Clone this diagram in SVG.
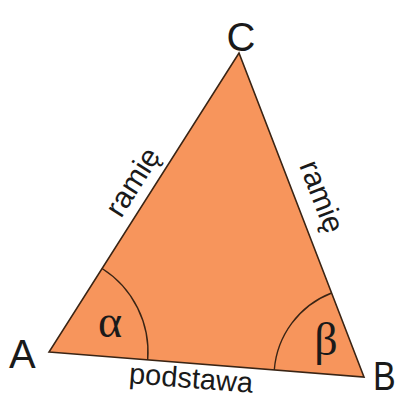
<svg xmlns="http://www.w3.org/2000/svg" width="400" height="400" viewBox="0 0 400 400">
<style>
.lbl{font-family:"Liberation Sans",Arial,sans-serif;fill:#1a1a1a}
.big{font-size:40px}
.side{font-size:30px}
.greek{font-family:"Liberation Serif","DejaVu Serif",serif;fill:#1a1a1a;font-size:46px}
.arc{fill:none;stroke:#3a2414;stroke-width:1.4}
</style>
<rect width="400" height="400" fill="#ffffff"/>
<g id="triangle">
<polygon points="49,352 364,377 239,53" fill="#F7955C" stroke="#3a2414" stroke-width="1.6" stroke-linejoin="miter"/>
</g>
<g id="angles">
<path class="arc" d="M 102.1,268.5 A 99 99 0 0 1 147.7,359.8"/>
<path class="arc" d="M 274.3,369.9 A 90 90 0 0 1 331.6,293"/>
<text class="greek" x="110" y="337" text-anchor="middle">α</text>
<text class="greek" x="326" y="355" text-anchor="middle">β</text>
</g>
<g id="vertices">
<text class="lbl big" x="9" y="368">A</text>
<text class="lbl big" transform="translate(373,390) scale(0.85,1)">B</text>
<text class="lbl big" x="241" y="51" text-anchor="middle">C</text>
</g>
<g id="sides">
<text class="lbl side" transform="translate(136,184) rotate(-57.6)" x="0" y="6" text-anchor="middle">ramię</text>
<text class="lbl side" transform="translate(318,198) rotate(68.9)" x="0" y="6" text-anchor="middle">ramię</text>
<text class="lbl" style="font-size:29px" transform="translate(191,380) rotate(4.5)" x="0" y="8" text-anchor="middle">podstawa</text>
</g>
</svg>
